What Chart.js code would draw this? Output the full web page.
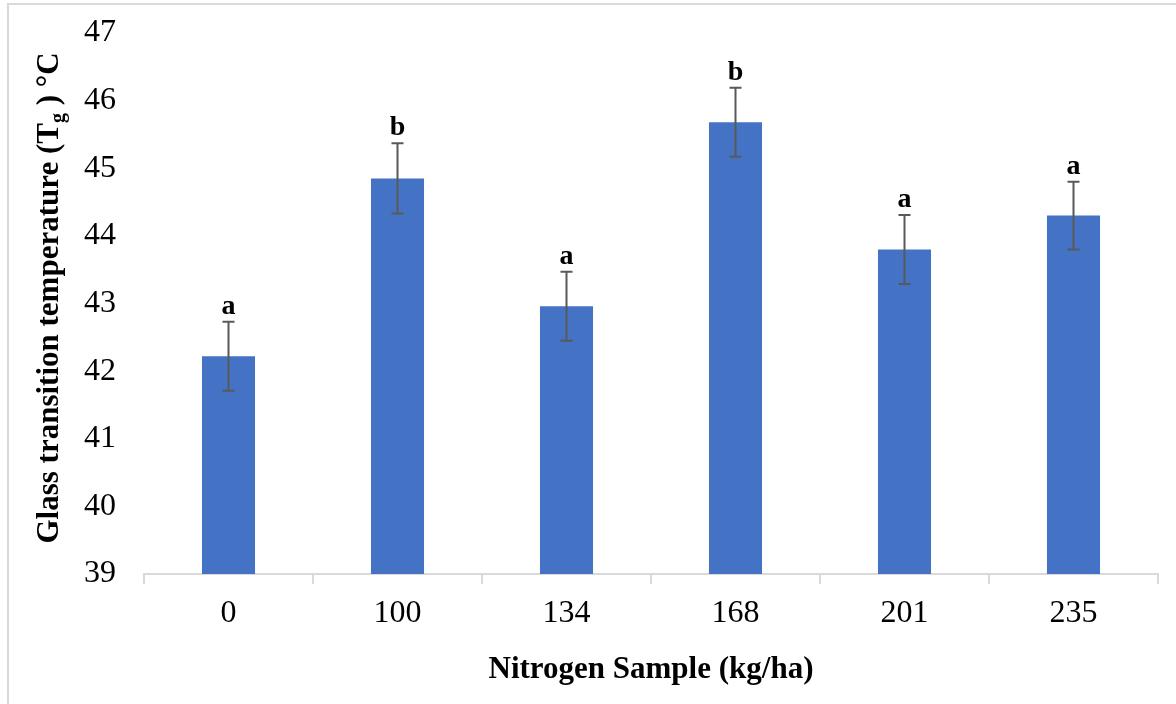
<!DOCTYPE html>
<html>
<head>
<meta charset="utf-8">
<script src="https://cdn.jsdelivr.net/npm/chart.js@4/dist/chart.umd.min.js"></script>
<style>
  body { margin: 0; background: #fff; }
  #wrap { position: relative; width: 1176px; height: 704px; }
  #frame { position: absolute; left: 7px; top: 3px; right: -5px; bottom: -5px; border-left: 2px solid #d9d9d9; border-top: 2px solid #d9d9d9; }
  canvas { position: absolute; left: 0; top: 0; }
</style>
</head>
<body>
<div id="wrap">
  <div id="frame"></div>
  <canvas id="chart" width="1176" height="704"></canvas>
</div>
<script>
const categories = ["0", "100", "134", "168", "201", "235"];
const tgValues = [42.22, 44.85, 42.96, 45.68, 43.80, 44.30];
const tgErrors = [0.51, 0.52, 0.51, 0.51, 0.51, 0.50];
const groupLetters = ["a", "b", "a", "b", "a", "a"];

const serif = "'Liberation Serif', 'Times New Roman', serif";

// error bars + significance letters
const errorBars = {
  id: "errorBars",
  afterDatasetsDraw(chart) {
    const ctx = chart.ctx;
    const meta = chart.getDatasetMeta(0);
    const y = chart.scales.y;
    ctx.save();
    ctx.strokeStyle = "#595959";
    ctx.lineWidth = 2;
    meta.data.forEach((bar, i) => {
      const top = y.getPixelForValue(tgValues[i] + tgErrors[i]);
      const bot = y.getPixelForValue(tgValues[i] - tgErrors[i]);
      ctx.beginPath();
      ctx.moveTo(bar.x, top);
      ctx.lineTo(bar.x, bot);
      ctx.moveTo(bar.x - 6, top);
      ctx.lineTo(bar.x + 6, top);
      ctx.moveTo(bar.x - 6, bot);
      ctx.lineTo(bar.x + 6, bot);
      ctx.stroke();
      ctx.fillStyle = "#000";
      ctx.font = "bold 28px " + serif;
      ctx.textAlign = "center";
      ctx.textBaseline = "alphabetic";
      ctx.fillText(groupLetters[i], bar.x, top - 8);
    });
    ctx.restore();
  }
};

// y title with subscript g
const yTitle = {
  id: "yTitle",
  afterDraw(chart) {
    const ctx = chart.ctx;
    const big = "bold 31px " + serif;
    const small = "bold 20px " + serif;
    const parts = [
      ["Glass transition temperature (T", big, 0],
      ["g", small, 6],
      [" ) \u00B0C", big, 0]
    ];
    let total = 0;
    parts.forEach(p => { ctx.font = p[1]; total += ctx.measureText(p[0]).width; });
    ctx.save();
    ctx.translate(58, 298);
    ctx.rotate(-Math.PI / 2);
    ctx.fillStyle = "#000";
    ctx.textBaseline = "alphabetic";
    ctx.textAlign = "left";
    let x = -total / 2;
    parts.forEach(p => {
      ctx.font = p[1];
      ctx.fillText(p[0], x, p[2]);
      x += ctx.measureText(p[0]).width;
    });
    ctx.restore();
  }
};

new Chart(document.getElementById("chart"), {
  type: "bar",
  data: {
    labels: categories,
    datasets: [{
      data: tgValues,
      backgroundColor: "#4472c4",
      borderWidth: 0,
      barPercentage: 0.314,
      categoryPercentage: 1
    }]
  },
  options: {
    responsive: false,
    animation: false,
    layout: { padding: { left: 0, right: 18, top: 33, bottom: 11 } },
    plugins: { legend: { display: false }, tooltip: { enabled: false } },
    scales: {
      x: {
        afterFit: s => { s.height = 119; },
        grid: { display: true, drawOnChartArea: false, offset: true, tickLength: 10, color: "#d9d9d9", lineWidth: 2 },
        border: { display: true, color: "#d9d9d9", width: 2 },
        ticks: { color: "#000", font: { family: serif, size: 32 }, padding: 10 },
        title: { display: true, text: "Nitrogen Sample (kg/ha)", color: "#000", font: { family: serif, size: 31, weight: "bold" } }
      },
      y: {
        min: 39,
        max: 47,
        afterFit: s => { s.width = 144; s.paddingTop = 0; s.paddingBottom = 0; },
        grid: { display: false },
        border: { display: false },
        ticks: { stepSize: 1, color: "#000", font: { family: serif, size: 32 }, padding: 20 }
      }
    }
  },
  plugins: [errorBars, yTitle]
});
</script>
</body>
</html>
